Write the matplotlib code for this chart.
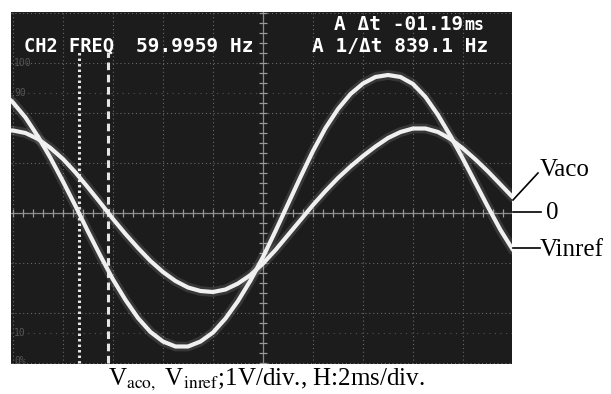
import numpy as np
import matplotlib.pyplot as plt

plt.rcParams['mathtext.fontset'] = 'stix'

# time axis in screen divisions (H: 2 ms/div)
t_div = [-0.25, 0.0, 0.25, 0.5, 0.75, 1.0, 1.25, 1.5, 1.75, 2.0, 2.25, 2.5, 2.75,
         3.0, 3.25, 3.5, 3.75, 4.0, 4.25, 4.5, 4.75, 5.0, 5.25, 5.5, 5.75, 6.0,
         6.25, 6.5, 6.75, 7.0, 7.25, 7.5, 7.75, 8.0, 8.25, 8.5, 8.75, 9.0, 9.25,
         9.5, 9.75, 10.0]

# in V (1 V/div)
v_inref = [2.44, 2.21, 1.91, 1.53, 1.10, 0.63, 0.14, -0.37, -0.86, -1.33, -1.74,
           -2.10, -2.38, -2.57, -2.67, -2.67, -2.57, -2.39, -2.11, -1.76, -1.35,
           -0.88, -0.36, 0.18, 0.72, 1.24, 1.70, 2.08, 2.38, 2.59, 2.72, 2.76,
           2.72, 2.58, 2.32, 1.96, 1.54, 1.08, 0.60, 0.12, -0.34, -0.74]
v_aco = [1.65, 1.65, 1.60, 1.48, 1.30, 1.08, 0.81, 0.51, 0.20, -0.12, -0.42,
         -0.70, -0.96, -1.18, -1.36, -1.49, -1.56, -1.58, -1.53, -1.41, -1.24,
         -1.01, -0.74, -0.44, -0.14, 0.16, 0.44, 0.70, 0.93, 1.14, 1.33, 1.50,
         1.62, 1.69, 1.69, 1.62, 1.48, 1.29, 1.07, 0.83, 0.57, 0.31]

cursor_a = 1.32
cursor_b = 1.90

W, H = 611, 394
fig = plt.figure(figsize=(W / 100, H / 100), dpi=100)
fig.patch.set_facecolor('white')

ax = fig.add_axes([11 / W, (H - 364) / H, 501 / W, 352 / H])
ax.set_facecolor('#1c1c1c')
ax.set_xlim(-0.04, 9.98)
ax.set_ylim(-3.02, 4.02)
ax.set_xticks([])
ax.set_yticks([])
for s in ax.spines.values():
    s.set_visible(False)

# graticule
grid_kw = dict(color='#7a7a7a', lw=0.8, ls=(0, (1, 2.5)), alpha=0.8, zorder=1)
for gx in range(0, 11):
    ax.axvline(gx, **grid_kw)
for gy in range(-3, 5):
    ax.axhline(gy, **grid_kw)
for gy in (2.4, -2.4):
    ax.axhline(gy, color='#6a6a6a', lw=0.8, ls=(0, (1, 4)), alpha=0.7, zorder=1)
ax.axhline(0, color='#8a8a8a', lw=0.9, zorder=1)
ax.axvline(5, color='#8a8a8a', lw=0.9, zorder=1)
mx = np.arange(0, 10.01, 0.2)
my = np.arange(-3, 4.01, 0.2)
ax.vlines(mx, -0.08, 0.08, color='#9a9a9a', lw=0.9, zorder=1)
ax.hlines(my, 4.92, 5.08, color='#9a9a9a', lw=0.9, zorder=1)

for txt, yy in [('100', 3.0), ('90', 2.4), ('10', -2.4), ('0%', -2.95)]:
    ax.text(0.02, yy, txt, color='#555555', fontsize=7, family='DejaVu Sans Mono',
            va='center', ha='left', zorder=1)

# cursors
ax.plot([cursor_a, cursor_a], [-3.0, 3.22], color='#e6e6e6', lw=2.2,
        ls=(0, (0.8, 1.0)), zorder=3)
ax.plot([cursor_b, cursor_b], [-3.0, 3.22], color='#e6e6e6', lw=2.2,
        ls=(0, (2.5, 1.5)), zorder=3)

# traces
for v in (v_inref, v_aco):
    ax.plot(t_div, v, color='white', lw=7, alpha=0.12, zorder=4,
            solid_capstyle='round')
    ax.plot(t_div, v, color='#f0f0f0', lw=3.0, zorder=5, solid_capstyle='round',
            solid_joinstyle='round')

# on-screen readouts
mono = dict(color='white', family='DejaVu Sans Mono', fontweight='bold',
            fontsize=14, va='center', transform=fig.transFigure)


def px(x, y):
    return x / W, 1 - y / H


fig.text(*px(463, 25), 'A \u0394t -01.19', ha='right', **mono)
fig.text(*px(464, 25), 'ms', ha='left', **{**mono, 'fontsize': 12})
fig.text(*px(24, 46), 'CH2 FREQ', ha='left', **{**mono, 'fontsize': 13.5})
fig.text(*px(136, 46), '59.9959 Hz', ha='left', **mono)
fig.text(*px(488, 46), 'A 1/\u0394t 839.1 Hz', ha='right', **mono)

# channel labels on the right
serif = dict(family='Liberation Serif', fontsize=18, color='black', va='center',
             transform=fig.transFigure)
fig.text(*px(540, 170), 'Vaco', ha='left', **serif)
fig.text(*px(546, 213), '0', ha='left', **serif)
fig.text(*px(540, 250), 'Vinref', ha='left', **serif)
for (x0, y0), (x1, y1) in [((513, 200), (538, 173)), ((513, 212), (541, 212)),
                           ((513, 248), (540, 248))]:
    fig.add_artist(plt.Line2D([x0 / W, x1 / W], [1 - y0 / H, 1 - y1 / H],
                              color='black', lw=1.2, transform=fig.transFigure))

fig.text(*px(266, 380), r'V$_{\mathrm{aco,}}$ V$_{\mathrm{inref}}$;1V/div., H:2ms/div.',
         ha='center', va='center', family='Liberation Serif', fontsize=18,
         color='black', transform=fig.transFigure)

fig.savefig('out.png', dpi=100)
